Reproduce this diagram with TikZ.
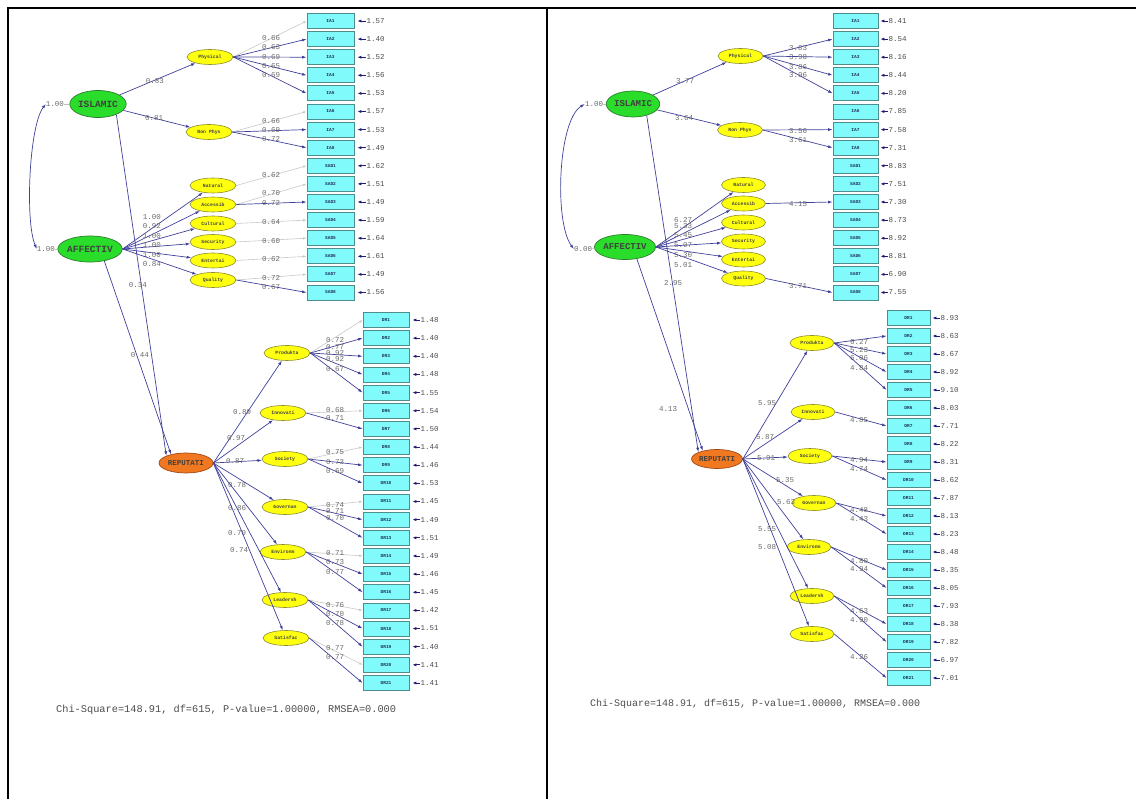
\documentclass[tikz,border=0pt]{standalone}
\usepackage{fontspec}
\setmainfont{Liberation Mono}
\usetikzlibrary{shapes.geometric,arrows.meta}
\definecolor{latgreen}{HTML}{2BDD2B}
\definecolor{latgreenline}{HTML}{2E7D2E}
\definecolor{latyellow}{HTML}{FFFF10}
\definecolor{latyellowline}{HTML}{8C8C30}
\definecolor{latorange}{HTML}{F07820}
\definecolor{latorangeline}{HTML}{A04818}
\definecolor{boxcyan}{HTML}{80FAFA}
\definecolor{boxline}{HTML}{4F8C8C}
\definecolor{boxtext}{HTML}{203060}
\definecolor{pathblue}{HTML}{40409A}
\definecolor{errblue}{HTML}{1E1E78}
\definecolor{fixgray}{HTML}{C8C8C8}
\definecolor{valgray}{HTML}{6A6A6A}
\begin{document}
\begin{tikzpicture}[x=1pt,y=-1pt,
  greenlat/.style={ellipse,draw=latgreenline,fill=latgreen,line width=0.7pt,
    minimum width=48pt,minimum height=27pt,inner sep=0pt,
    font=\fontsize{9.5}{10}\selectfont\bfseries,text=black!75},
  orangelat/.style={ellipse,draw=latorangeline,fill=latorange,line width=0.7pt,
    minimum width=54pt,minimum height=20pt,inner sep=0pt,
    font=\fontsize{7.5}{8}\selectfont\bfseries,text=black!75},
  yellat/.style={ellipse,draw=latyellowline,fill=latyellow,line width=0.6pt,
    minimum width=46pt,minimum height=15pt,inner sep=0pt,
    font=\fontsize{4.8}{5}\selectfont\bfseries,text=black!75},
  obsbox/.style={rectangle,draw=boxline,fill=boxcyan,line width=0.8pt,
    minimum height=15pt,inner sep=0pt,
    font=\fontsize{4.5}{5}\selectfont\bfseries,text=boxtext},
  val/.style={inner sep=0pt,font=\fontsize{7.5}{8}\selectfont,text=valgray},
  errval/.style={inner sep=0pt,anchor=west,font=\fontsize{7.5}{8}\selectfont,text=black!70},
  freepath/.style={draw=pathblue,line width=0.7pt,-{Latex[length=4.5pt,width=3pt]}},
  fixpath/.style={draw=fixgray,line width=0.6pt,-{Latex[length=3.5pt,width=2.5pt]}},
  errarrow/.style={draw=errblue,line width=0.9pt,-{Latex[length=4pt,width=3.2pt]},
    shorten >=3pt,shorten <=0.5pt},
  thinline/.style={draw=black!25,line width=0.5pt},
  covpath/.style={draw=pathblue,line width=0.7pt,
    {Latex[length=4.5pt,width=3pt]}-{Latex[length=4.5pt,width=3pt]}},
  fitline/.style={inner sep=0pt,font=\fontsize{10.3}{11}\selectfont,text=black!70}]
\useasboundingbox (0,0) rectangle (1136,799);

% table frame
\draw[line width=2pt] (7,8) -- (1136,8);
\draw[line width=1.6pt] (8,8) -- (8,799);
\draw[line width=1.6pt] (547,8) -- (547,799);

% ================= standardized solution =================
% indicator boxes
\foreach \lab [count=\i] in {IA1,IA2,IA3,IA4,IA5,IA6,IA7,IA8,SAD1,SAD2,SAD3,SAD4,SAD5,SAD6,SAD7,SAD8}
  \node[obsbox,minimum width=47pt] (L-b\i) at (330.5,{21+18.1*(\i-1)}) {\lab};
\foreach \i in {1,...,21}
  \node[obsbox,minimum width=46pt] (L-d\i) at (386,{320+18.15*(\i-1)}) {DR\i};

% error variances
\foreach \v [count=\i] in {1.57,1.40,1.52,1.56,1.53,1.57,1.53,1.49,1.62,1.51,1.49,1.59,1.64,1.61,1.49,1.56}{
  \node[errval] (L-be\i) at ([xshift=12pt]L-b\i.east) {\v};
  \draw[errarrow] (L-be\i.west) -- (L-b\i.east);
}
\foreach \v [count=\i] in {1.48,1.40,1.40,1.48,1.55,1.54,1.50,1.44,1.46,1.53,1.45,1.49,1.51,1.49,1.46,1.45,1.42,1.51,1.40,1.41,1.41}{
  \node[errval] (L-de\i) at ([xshift=11pt]L-d\i.east) {\v};
  \draw[errarrow] (L-de\i.west) -- (L-d\i.east);
}

% latent variables
\node[greenlat] (L-isl) at (98,104) {ISLAMIC};
\node[greenlat,minimum height=26pt] (L-aff) at (90,249) {AFFECTIV};
\node[orangelat] (L-rep) at (186,463) {REPUTATI};
\node[yellat] (L-phys) at (210,57) {Physical};
\node[yellat] (L-nonp) at (209,132) {Non Phys};
\node[yellat] (L-nat) at (213,185.5) {Natural};
\node[yellat] (L-acc) at (213,204.5) {Accessib};
\node[yellat] (L-cul) at (213,223.5) {Cultural};
\node[yellat] (L-sec) at (213,242) {Security};
\node[yellat] (L-ent) at (213,260.5) {Entertai};
\node[yellat] (L-qua) at (213,280) {Quality};
\node[yellat] (L-prod) at (287,353) {Produkta};
\node[yellat] (L-innov) at (283,413) {Innovati};
\node[yellat] (L-soc) at (285,459) {Society};
\node[yellat] (L-gov) at (285,507) {Governan};
\node[yellat] (L-env) at (283,552) {Environm};
\node[yellat] (L-lead) at (285,600) {Leadersh};
\node[yellat] (L-sat) at (286,638) {Satisfac};

% variances and covariance of the exogenous factors
\node[val] (L-v1) at (55,104) {1.00};
\node[val] (L-v2) at (46,249) {1.00};
\draw[thinline] (L-v1) -- (L-isl);
\draw[thinline] (L-v2) -- (L-aff);
\draw[covpath] (L-v2.west) .. controls (25,222) and (29,126) .. (L-v1.west);

% second-order loadings
\draw[freepath] (L-isl) -- (L-phys);
\node[val] at (155,81) {0.83};
\draw[freepath] (L-isl) -- (L-nonp);
\node[val] at (154,118) {0.81};
\foreach \t/\v/\y in {nat/1.00/217,acc/0.92/226,cul/1.00/236,sec/1.00/245,ent/1.00/255,qua/0.84/264}{
  \draw[freepath] (L-aff.east) -- (L-\t);
  \node[val] at (152,\y) {\v};
}
\draw[freepath] (L-isl.-30) -- (L-rep.160);
\node[val] at (138,285) {0.34};
\draw[freepath] (L-aff.-40) -- (L-rep.150);
\node[val] at (140,355) {0.44};
\foreach \t/\v/\x/\y in {prod/0.89/242/412,innov/0.97/236/438,soc/0.87/235/461,gov/0.78/237/485,env/0.86/237/508,lead/0.79/237/533,sat/0.74/239/550}{
  \draw[freepath] (L-rep.east) -- (L-\t);
  \node[val] at (\x,\y) {\v};
}

% first-order loadings: reference indicators
\foreach \s/\t/\v/\y in {phys/1/0.66/38,nonp/6/0.66/121,nat/9/0.62/175,acc/10/0.70/193,cul/12/0.64/222,sec/13/0.60/241,ent/14/0.62/259,qua/15/0.72/278}{
  \draw[fixpath] (L-\s.east) -- (L-b\t.west);
  \node[val] at (271,\y) {\v};
}
\foreach \s/\t/\v/\y in {prod/1/0.72/340,innov/6/0.68/410,soc/8/0.75/452,gov/11/0.74/505,env/14/0.71/553,lead/17/0.76/605,sat/20/0.77/648}{
  \draw[fixpath] (L-\s.east) -- (L-d\t.west);
  \node[val] at (335,\y) {\v};
}
% first-order loadings: free indicators
\foreach \s/\t/\v/\y in {phys/2/0.63/47,phys/3/0.69/57,phys/4/0.65/66,phys/5/0.69/75,nonp/7/0.69/130,nonp/8/0.72/139,acc/11/0.72/203,qua/16/0.67/287}{
  \draw[freepath] (L-\s.east) -- (L-b\t.west);
  \node[val] at (271,\y) {\v};
}
\foreach \s/\t/\v/\y in {prod/2/0.77/347,prod/3/0.92/353,prod/4/0.92/359,prod/5/0.67/369,innov/7/0.71/418,soc/9/0.73/462,soc/10/0.69/471,gov/12/0.71/511,gov/13/0.70/518,env/15/0.73/562,env/16/0.77/572,lead/18/0.70/614,lead/19/0.78/623,sat/21/0.77/657}{
  \draw[freepath] (L-\s.east) -- (L-d\t.west);
  \node[val] at (335,\y) {\v};
}

\node[fitline,anchor=west] (L-fit) at (56,710) {Chi-Square=148.91, df=615, P-value=1.00000, RMSEA=0.000};

% ================= t-values =================
\foreach \lab [count=\i] in {IA1,IA2,IA3,IA4,IA5,IA6,IA7,IA8,SAD1,SAD2,SAD3,SAD4,SAD5,SAD6,SAD7,SAD8}
  \node[obsbox,minimum width=45pt] (R-b\i) at (855.5,{21+18.1*(\i-1)}) {\lab};
\foreach \i in {1,...,21}
  \node[obsbox,minimum width=43pt] (R-d\i) at (908.5,{318+18*(\i-1)}) {DR\i};

\foreach \v [count=\i] in {8.41,8.54,8.16,8.44,8.20,7.85,7.58,7.31,8.83,7.51,7.30,8.73,8.92,8.81,6.90,7.55}{
  \node[errval] (R-be\i) at ([xshift=10pt]R-b\i.east) {\v};
  \draw[errarrow,shorten >=2pt] (R-be\i.west) -- (R-b\i.east);
}
\foreach \v [count=\i] in {8.93,8.63,8.67,8.92,9.10,8.03,7.71,8.22,8.31,8.62,7.87,8.13,8.23,8.48,8.35,8.05,7.93,8.38,7.82,6.97,7.01}{
  \node[errval] (R-de\i) at ([xshift=10pt]R-d\i.east) {\v};
  \draw[errarrow,shorten >=2pt] (R-de\i.west) -- (R-d\i.east);
}

\node[greenlat,minimum width=45pt,minimum height=26pt,font=\fontsize{9}{10}\selectfont\bfseries] (R-isl) at (633,104) {ISLAMIC};
\node[greenlat,minimum width=45pt,minimum height=25pt,font=\fontsize{9}{10}\selectfont\bfseries] (R-aff) at (625,247) {AFFECTIV};
\node[orangelat,minimum width=50pt,minimum height=19pt] (R-rep) at (717,459) {REPUTATI};
\node[yellat,minimum width=45pt] (R-phys) at (740.5,56) {Physical};
\node[yellat,minimum width=45pt] (R-nonp) at (740,130) {Non Phys};
\node[yellat,minimum width=44pt] (R-nat) at (743.5,185) {Natural};
\node[yellat,minimum width=44pt] (R-acc) at (743.5,203.5) {Accessib};
\node[yellat,minimum width=44pt] (R-cul) at (743.5,222.5) {Cultural};
\node[yellat,minimum width=44pt] (R-sec) at (743.5,241.5) {Security};
\node[yellat,minimum width=44pt] (R-ent) at (743.5,259.5) {Entertai};
\node[yellat,minimum width=44pt] (R-qua) at (743.5,278.5) {Quality};
\node[yellat,minimum width=44pt] (R-prod) at (812,343) {Produkta};
\node[yellat,minimum width=44pt] (R-innov) at (813,412) {Innovati};
\node[yellat,minimum width=44pt] (R-soc) at (810,456) {Society};
\node[yellat,minimum width=44pt] (R-gov) at (814,503) {Governan};
\node[yellat,minimum width=44pt] (R-env) at (809,547) {Environm};
\node[yellat,minimum width=44pt] (R-lead) at (812,596) {Leadersh};
\node[yellat,minimum width=44pt] (R-sat) at (812,634) {Satisfac};

\node[val] (R-v1) at (594,104) {1.00};
\node[val] (R-v2) at (583,249) {0.00};
\draw[thinline] (R-v1) -- (R-isl);
\draw[thinline] (R-v2) -- (R-aff);
\draw[covpath] (R-v2.west) .. controls (554,222) and (558,120) .. (R-v1.west);

\draw[freepath] (R-isl) -- (R-phys);
\node[val] at (685,81) {3.77};
\draw[freepath] (R-isl) -- (R-nonp);
\node[val] at (684,118) {3.64};
\foreach \t/\v/\y in {nat/6.27/220,acc/5.33/226,cul/5.45/235,sec/5.07/245,ent/5.30/255,qua/5.01/265}{
  \draw[freepath] (R-aff.east) -- (R-\t);
  \node[val] at (683,\y) {\v};
}
\draw[freepath] (R-isl.-40) -- (R-rep.160);
\node[val] at (673,283) {2.95};
\draw[freepath] (R-aff.-45) -- (R-rep.150);
\node[val] at (668,409) {4.13};
\foreach \t/\v/\x/\y in {prod/5.95/767/403,innov/5.87/765/437,soc/5.91/766/458,gov/5.35/785/480,env/5.63/786/502,lead/5.55/767/529,sat/5.08/767/547}{
  \draw[freepath] (R-rep.east) -- (R-\t);
  \node[val] at (\x,\y) {\v};
}

\foreach \s/\t/\v/\y in {phys/2/3.83/48,phys/3/3.98/57,phys/4/3.86/67,phys/5/3.96/75,nonp/7/3.56/131,nonp/8/3.61/140,acc/11/4.15/204,qua/16/3.71/286}{
  \draw[freepath] (R-\s.east) -- (R-b\t.west);
  \node[val] at (798,\y) {\v};
}
\foreach \s/\t/\v/\y in {prod/2/6.27/342,prod/3/5.23/350,prod/4/6.06/358,prod/5/4.84/368,innov/7/4.85/420,soc/9/4.94/460,soc/10/4.74/469,gov/12/4.48/510,gov/13/4.43/519,env/15/4.80/561,env/16/4.94/569,lead/18/4.63/611,lead/19/4.90/620,sat/21/4.26/657}{
  \draw[freepath] (R-\s.east) -- (R-d\t.west);
  \node[val] at (859,\y) {\v};
}

\node[fitline,anchor=west,font=\fontsize{10}{11}\selectfont] (R-fit) at (590,704) {Chi-Square=148.91, df=615, P-value=1.00000, RMSEA=0.000};
\end{tikzpicture}
\end{document}
